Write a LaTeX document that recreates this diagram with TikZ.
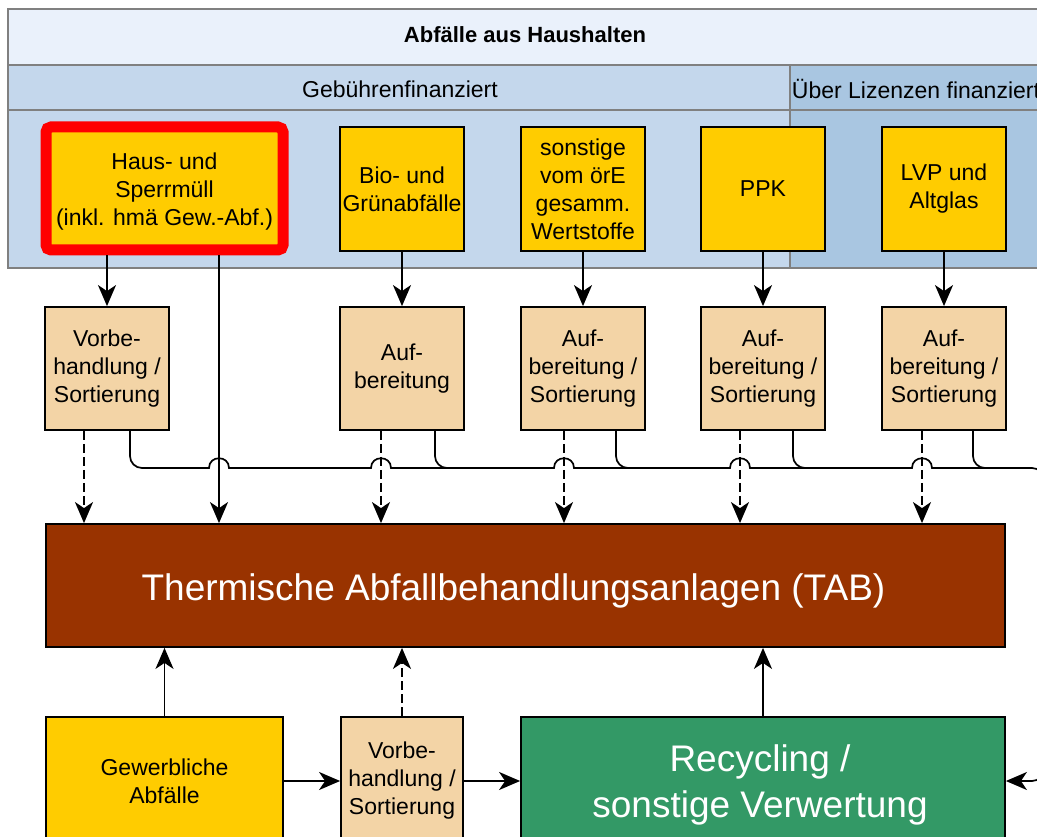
\documentclass[tikz,border=0pt]{standalone}
\usepackage{fontspec}
\setmainfont{Liberation Sans}
\usetikzlibrary{arrows.meta}
\definecolor{hdrc}{HTML}{EAF1FB}
\definecolor{gebc}{HTML}{C4D7EC}
\definecolor{lizc}{HTML}{A9C6E1}
\definecolor{grpc}{HTML}{808080}
\definecolor{ylw}{HTML}{FFCC00}
\definecolor{prc}{HTML}{F3D4A6}
\definecolor{tabc}{HTML}{993300}
\definecolor{recc}{HTML}{339966}
\newcommand\fsn{\fontsize{23}{28}\selectfont}
\newcommand\fsbig{\fontsize{37}{46}\selectfont}
\begin{document}
\begin{tikzpicture}[x=1pt,y=-1pt,
 srcbox/.style={draw=black,fill=ylw,line width=1.8pt,minimum width=124pt,minimum height=124pt,inner sep=0pt,align=center,font=\fsn},
 procbox/.style={draw=black,fill=prc,line width=1.8pt,minimum width=124pt,minimum height=123pt,inner sep=0pt,align=center,font=\fsn},
 tip/.style={-{Stealth[length=21pt,width=18pt,inset=6pt]}},
 conn/.style={line width=1.7pt,tip},
 dconn/.style={conn,dash pattern=on 9pt off 4pt},
 wire/.style={line width=1.7pt},
 region/.style={draw=grpc,line width=1.8pt,inner sep=0pt,anchor=north west}
]
\fill[white] (0,0) rectangle (1037,837);
\useasboundingbox (0,0) rectangle (1037,837);
\clip (0,0) rectangle (1037,837);

% regions
\node[region,fill=gebc,minimum width=782pt,minimum height=203pt] (gebreg) at (7,64) {};
\node[region,fill=lizc,minimum width=254pt,minimum height=203pt] (lizreg) at (789,64) {};
\node[region,fill=hdrc,minimum width=1036pt,minimum height=56pt] (title) at (7,8) {};
\node[font=\bfseries\fontsize{22}{26}\selectfont] (titletxt) at (525,35) {Abfälle aus Haushalten};
\coordinate (y110) at (0,110);
\draw[draw=grpc,line width=1.8pt] (gebreg.west |- y110) -- (lizreg.east |- y110);
\node[font=\fsn] (gebtxt) at (400,89) {Gebührenfinanziert};
\node[font=\fsn] (liztxt) at (916,89) {Über Lizenzen finanziert};

% sources
\node[srcbox,draw=red,line width=11pt,rounded corners=5pt,minimum width=237pt,minimum height=123pt,
  label={[font=\fsn,align=center,yshift=-3pt]center:Haus- und\\Sperrmüll\\(inkl. hmä Gew.-Abf.)}] (haus) at (164.5,188.5) {};
\node[srcbox] (bio) at (402,189) {Bio- und\\Grünabfälle};
\node[srcbox] (sonst) at (583,189) {sonstige\\vom örE\\gesamm.\\Wertstoffe};
\node[srcbox] (ppk) at (763,189) {PPK};
\node[srcbox] (lvp) at (944,189) {LVP und\\Altglas};

% processing
\node[procbox] (p1) at (107,368.5) {Vorbe-\\handlung /\\Sortierung};
\node[procbox] (p2) at (402,368.5) {Auf-\\bereitung};
\node[procbox] (p3) at (583,368.5) {Auf-\\bereitung /\\Sortierung};
\node[procbox] (p4) at (763,368.5) {Auf-\\bereitung /\\Sortierung};
\node[procbox] (p5) at (944,368.5) {Auf-\\bereitung /\\Sortierung};

% TAB
\node[draw=black,fill=tabc,line width=1.8pt,minimum width=959pt,minimum height=123pt,
  label={[text=white,font=\fsbig,xshift=-12pt,yshift=-5pt]center:Thermische Abfallbehandlungsanlagen (TAB)}] (tab) at (525.5,585.5) {};

% bottom
\node[srcbox,minimum width=237pt,minimum height=128pt] (gew) at (164.5,781) {Gewerbliche\\Abfälle};
\node[procbox,minimum width=122pt,minimum height=128pt] (p6) at (402,781) {Vorbe-\\handlung /\\Sortierung};
\node[draw=black,fill=recc,line width=1.8pt,minimum width=484pt,minimum height=128pt,
  label={[text=white,font=\fsbig,align=center,xshift=-3pt,yshift=-4pt]center:Recycling /\\sonstige Verwertung}] (rec) at (763,781) {};

% coordinates
\coordinate (xa) at (219,0);
\coordinate (d1) at (84,0);
\coordinate (d2) at (381,0);
\coordinate (d3) at (564,0);
\coordinate (d4) at (740,0);
\coordinate (d5) at (922,0);
\coordinate (w1) at (130,0);
\coordinate (w2) at (435,0);
\coordinate (w3) at (616,0);
\coordinate (w4) at (793,0);
\coordinate (w5) at (973,0);
\coordinate (wy) at (0,468);
\coordinate (wr) at (1044,0);

% source -> processing
\draw[conn] (haus.south -| p1.north) -- (p1.north);
\draw[conn] (haus.south -| xa) -- (tab.north -| xa);
\draw[conn] (bio.south) -- (p2.north);
\draw[conn] (sonst.south) -- (p3.north);
\draw[conn] (ppk.south) -- (p4.north);
\draw[conn] (lvp.south) -- (p5.north);

% residue line with hops
\draw[wire,rounded corners=12pt] (p1.south -| w1) -- (w1 |- wy) -- (200,468);
\draw[wire] (199,468) -- (209,468)
  .. controls (209,455) and (229,455) .. (229,468) -- (371,468)
  .. controls (371,455) and (391,455) .. (391,468) -- (554,468)
  .. controls (554,455) and (574,455) .. (574,468) -- (730,468)
  .. controls (730,455) and (750,455) .. (750,468) -- (912,468)
  .. controls (912,455) and (932,455) .. (932,468) -- (960,468);
\draw[wire,rounded corners=12pt,tip] (959,468) -- (wr |- wy) -- (wr |- rec.east) -- (rec.east);
\draw[wire,rounded corners=12pt] (p2.south -| w2) -- (w2 |- wy) -- (470,468);
\draw[wire,rounded corners=12pt] (p3.south -| w3) -- (w3 |- wy) -- (650,468);
\draw[wire,rounded corners=12pt] (p4.south -| w4) -- (w4 |- wy) -- (830,468);
\draw[wire,rounded corners=12pt] (p5.south -| w5) -- (w5 |- wy) -- (1010,468);

% processing -> TAB
\draw[dconn] (p1.south -| d1) -- (tab.north -| d1);
\draw[dconn] (p2.south -| d2) -- (tab.north -| d2);
\draw[dconn] (p3.south -| d3) -- (tab.north -| d3);
\draw[dconn] (p4.south -| d4) -- (tab.north -| d4);
\draw[dconn] (p5.south -| d5) -- (tab.north -| d5);

% bottom connectors
\draw[conn] (gew.north) -- (tab.south -| gew.north);
\draw[dconn] (p6.north) -- (tab.south -| p6.north);
\draw[conn] (rec.north) -- (tab.south -| rec.north);
\draw[conn] (gew.east) -- (p6.west);
\draw[conn] (p6.east) -- (rec.west);
\end{tikzpicture}
\end{document}
